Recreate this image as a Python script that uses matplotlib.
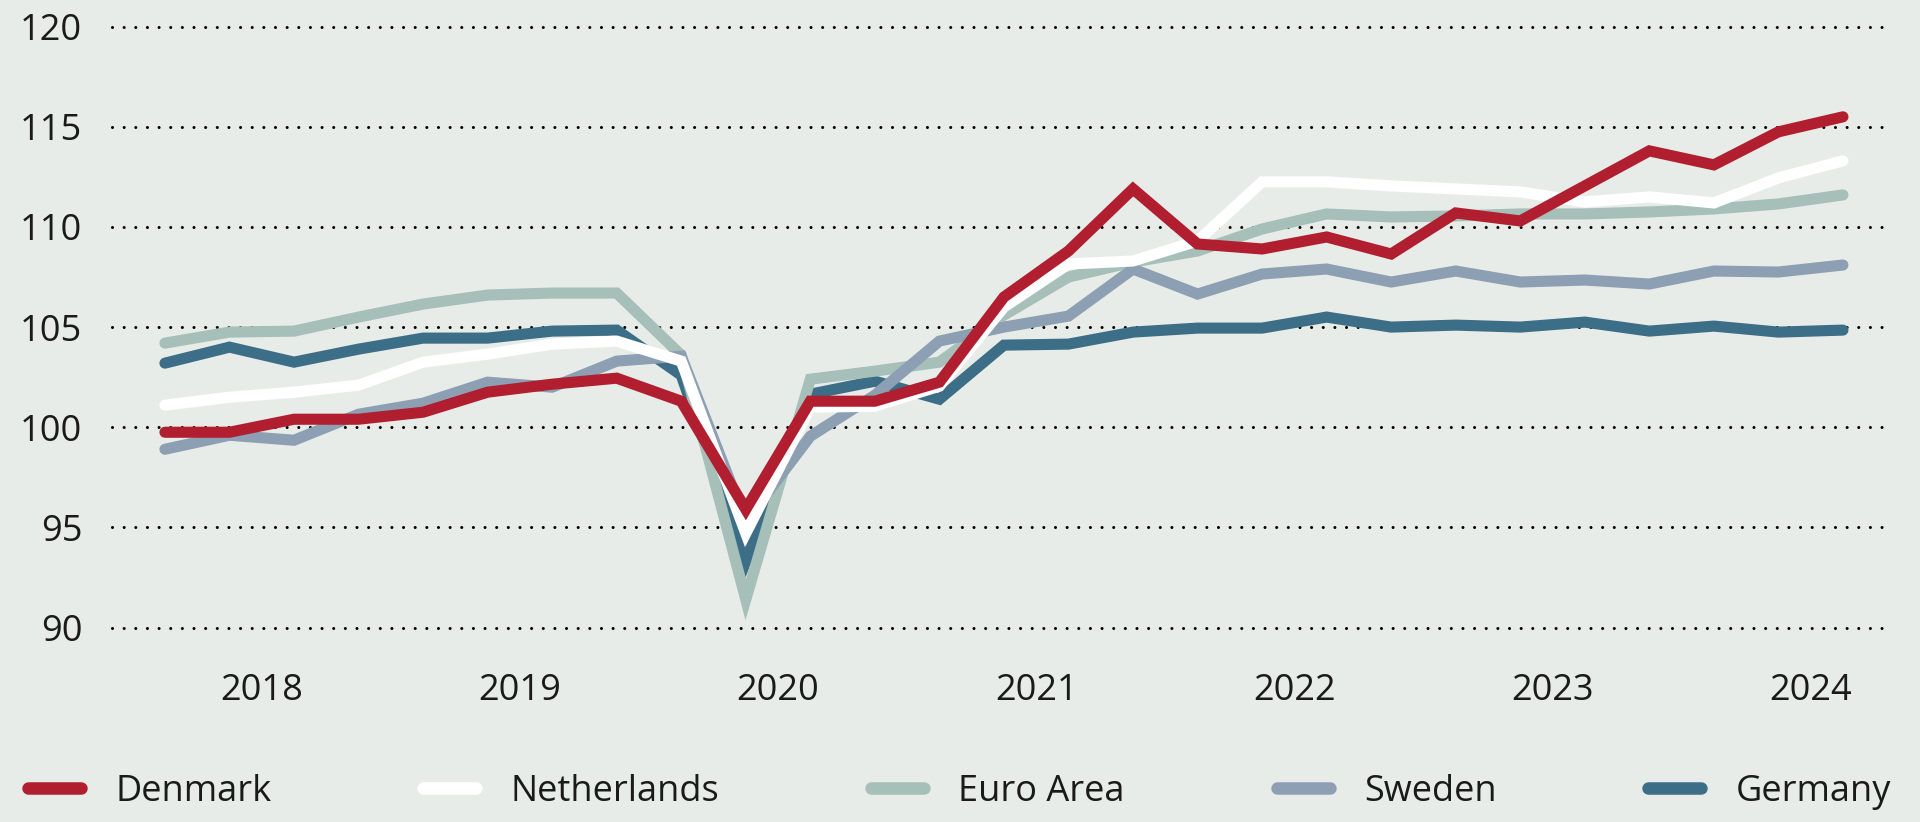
import matplotlib
matplotlib.use("Agg")
import matplotlib.pyplot as plt
from matplotlib.lines import Line2D
import numpy as np

plt.rcParams['font.family'] = ['Open Sans', 'DejaVu Sans']

quarters = [f"{y}Q{q}" for y in range(2018, 2025) for q in range(1, 5)][:27]
year_labels = ["2018", "2019", "2020", "2021", "2022", "2023", "2024"]
y_ticks = [90, 95, 100, 105, 110, 115, 120]

denmark = [99.75, 99.75, 100.4, 100.4, 100.75, 101.75, 102.15, 102.45,
           101.3, 95.9, 101.3, 101.3, 102.25, 106.5, 108.8, 111.9,
           109.15, 108.9, 109.5, 108.65, 110.7, 110.3, 112.05, 113.8,
           113.1, 114.75, 115.5]
netherlands = [101.1, 101.5, 101.75, 102.1, 103.25, 103.65, 104.15, 104.3,
               103.3, 94.7, 101.0, 101.05, 102.05, 106.0, 108.15, 108.3,
               109.3, 112.25, 112.25, 112.05, 111.9, 111.75, 111.25, 111.5,
               111.2, 112.45, 113.3]
euro_area = [104.2, 104.75, 104.8, 105.5, 106.15, 106.6, 106.7, 106.7,
             103.6, 91.4, 102.4, 102.8, 103.25, 105.6, 107.5, 108.25,
             108.8, 109.9, 110.65, 110.5, 110.55, 110.65, 110.65, 110.75,
             110.9, 111.15, 111.6]
sweden = [98.9, 99.6, 99.35, 100.65, 101.2, 102.25, 102.0, 103.3,
          103.55, 95.3, 99.55, 101.6, 104.3, 105.0, 105.55, 107.9,
          106.65, 107.65, 107.9, 107.25, 107.8, 107.25, 107.35, 107.15,
          107.8, 107.75, 108.1]
germany = [103.2, 104.0, 103.25, 103.9, 104.45, 104.45, 104.8, 104.85,
           102.6, 93.3, 101.65, 102.3, 101.4, 104.1, 104.15, 104.75,
           104.95, 104.95, 105.5, 105.0, 105.1, 105.0, 105.25, 104.8,
           105.05, 104.75, 104.85]

series_names = ["Denmark", "Netherlands", "Euro Area", "Sweden", "Germany"]
series_values = [denmark, netherlands, euro_area, sweden, germany]
colors = ["#B01E2F", "#FFFFFF", "#A6BFB9", "#8DA0B3", "#3D6E87"]
zorders = [6, 5, 3, 4, 2]

BG = "#E8ECE8"
W, H = 1920, 822
fig = plt.figure(figsize=(W / 100, H / 100), dpi=100, facecolor=BG)
ax = fig.add_axes([112 / W, 1 - 627.5 / H, (1892 - 112) / W, (627.5 - 26.7) / H])
ax.set_facecolor(BG)

x = np.arange(len(quarters))
for name, vals, col, z in zip(series_names, series_values, colors, zorders):
    ax.plot(x, vals, color=col, lw=8, solid_capstyle='round',
            solid_joinstyle='miter', zorder=z, label=name)

for yv in y_ticks:
    ax.axhline(yv, color='black', lw=2.2, linestyle=(0, (0.01, 3.8)),
               dash_capstyle='round', zorder=1, clip_on=False)

ax.set_xlim(-0.82, len(quarters) - 1 + 0.76)
ax.set_ylim(90, 120)
ax.set_yticks(y_ticks)
ax.set_yticklabels([str(v) for v in y_ticks])
ax.set_xticks([4 * k + 1.5 for k in range(len(year_labels))])
ax.set_xticklabels(year_labels)
ax.tick_params(axis='y', length=0, pad=21.5, labelsize=26, colors='#1a1a1a')
ax.tick_params(axis='x', length=0, pad=33, labelsize=26, colors='#1a1a1a')
for s in ax.spines.values():
    s.set_visible(False)

handles = [Line2D([0], [0], color=c, lw=9, solid_capstyle='round') for c in colors]
fig.legend(handles, series_names, loc='center left',
           bbox_to_anchor=(28 / W, 1 - 792 / H), ncol=5, frameon=False,
           fontsize=26, handlelength=1.47, handletextpad=0.95,
           columnspacing=4.2, borderpad=0, borderaxespad=0,
           labelcolor='#1a1a1a')

fig.savefig("out.png", dpi=100, facecolor=BG)
